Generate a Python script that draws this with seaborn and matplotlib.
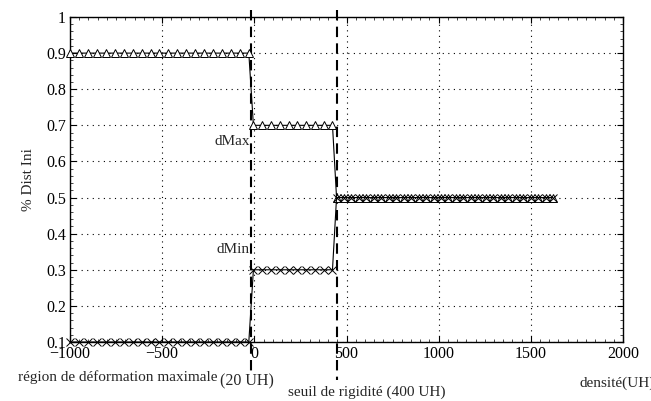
import matplotlib
matplotlib.use("Agg")
import matplotlib.pyplot as plt
import seaborn as sns
from matplotlib.ticker import MultipleLocator

# sample points (densite, UH) for the three plateaus
x_seg1 = [-1000, -951, -903, -854, -806, -757, -709, -660, -612, -563, -515,
          -466, -418, -369, -321, -272, -224, -175, -127, -78, -30]
x_seg2 = [-5, 43, 90, 138, 186, 233, 281, 329, 376, 424]
x_seg3 = [446, 486, 527, 567, 608, 648, 689, 729, 770, 810, 851, 891, 932, 972,
          1013, 1053, 1094, 1134, 1175, 1215, 1256, 1296, 1337, 1377, 1418,
          1458, 1499, 1539, 1580, 1620]
dens = x_seg1 + x_seg2 + x_seg3
dmax = [0.9] * len(x_seg1) + [0.7] * len(x_seg2) + [0.5] * len(x_seg3)
dmin = [0.1] * len(x_seg1) + [0.3] * len(x_seg2) + [0.5] * len(x_seg3)

seuils = [-20, 450]
xticks = [-1000, -500, 0, 500, 1000, 1500, 2000]
yticks = [0.1, 0.2, 0.3, 0.4, 0.5, 0.6, 0.7, 0.8, 0.9, 1]

sns.set_style("ticks")
plt.rcParams['font.family'] = ['Liberation Serif', 'DejaVu Serif']
plt.rcParams['font.size'] = 11
plt.rcParams['axes.unicode_minus'] = True

fig = plt.figure(figsize=(6.51, 4.01), dpi=100)
ax = fig.add_axes([70 / 651, 59 / 401, 553 / 651, 325 / 401])

sns.lineplot(x=dens, y=dmax, ax=ax, color='k', lw=0.8, marker='^', markersize=6,
             markerfacecolor='white', markeredgecolor='k', markeredgewidth=0.7,
             sort=False, estimator=None, clip_on=False, zorder=3)
sns.lineplot(x=dens, y=dmin, ax=ax, color='k', lw=0.8, marker='x', markersize=6,
             markeredgecolor='k', markeredgewidth=0.7,
             sort=False, estimator=None, clip_on=False, zorder=3)

# seuils (dashed lines crossing the frame)
ax.plot([seuils[0], seuils[0]], [1.02, 0.02], color='k', lw=1.5,
        ls=(0, (5, 3)), clip_on=False)
ax.plot([seuils[1], seuils[1]], [1.02, -0.005], color='k', lw=1.5,
        ls=(0, (5, 3)), clip_on=False)

ax.set_xlim(-1000, 2000)
ax.set_ylim(0.1, 1)
ax.set_xticks(xticks)
ax.set_yticks(yticks)
ax.set_yticklabels(['0.1', '0.2', '0.3', '0.4', '0.5', '0.6', '0.7', '0.8', '0.9', '1'])
ax.xaxis.set_minor_locator(MultipleLocator(50))
ax.yaxis.set_minor_locator(MultipleLocator(0.02))
ax.tick_params(which='both', direction='in', top=True, right=True, colors='k')
ax.tick_params(which='major', length=4, width=0.8, labelsize=11.5, pad=3)
ax.tick_params(which='minor', length=2, width=0.5)
ax.grid(True, which='major', color='k', ls=(0, (1, 4)), lw=0.8)
for s in ax.spines.values():
    s.set_linewidth(1.0)
    s.set_color('k')

ax.set_ylabel('% Dist Ini', fontsize=11, labelpad=8)

ax.text(-25, 0.655, 'dMax', ha='right', va='center', fontsize=11)
ax.text(-25, 0.355, 'dMin', ha='right', va='center', fontsize=11)

fig.text(18 / 651, 1 - 377 / 401, 'région de déformation maximale', ha='left', va='center', fontsize=11)
fig.text(247 / 651, 1 - 381 / 401, '(20 UH)', ha='center', va='center', fontsize=11.5)
fig.text(288 / 651, 1 - 392 / 401, 'seuil de rigidité (400 UH)', ha='left', va='center', fontsize=11)
fig.text(580 / 651, 1 - 383 / 401, 'densité(UH)', ha='left', va='center', fontsize=11)

fig.savefig('out.png', dpi=100)
